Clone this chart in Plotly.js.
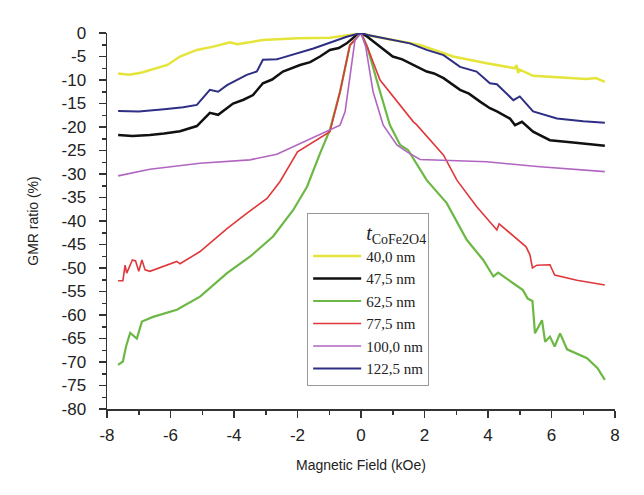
<!DOCTYPE html>
<html>
<head>
<meta charset="utf-8">
<script src="https://cdn.plot.ly/plotly-3.0.1.min.js"></script>
<style>html,body{margin:0;padding:0;background:#fff;}#chart{width:644px;height:495px;}</style>
</head>
<body>
<div id="chart"></div>
<script>
// Series names
const seriesNames = ["40,0 nm", "47,5 nm", "62,5 nm", "77,5 nm", "100,0 nm", "122,5 nm"];

// Tick labels (hyphen minus as in the reference)
const xTickVals = [-8, -6, -4, -2, 0, 2, 4, 6, 8];
const xTickText = ["-8", "-6", "-4", "-2", "0", "2", "4", "6", "8"];
const yTickVals = [0, -5, -10, -15, -20, -25, -30, -35, -40, -45, -50, -55, -60, -65, -70, -75, -80];
const yTickText = ["0", "-5", "-10", "-15", "-20", "-25", "-30", "-35", "-40", "-45", "-50", "-55", "-60", "-65", "-70", "-75", "-80"];

// 40,0 nm (yellow)
const x40 = [-7.65,-7.3,-6.9,-6.65,-6.1,-5.7,-5.17,-4.65,-4.12,-3.9,-3.5,-3.1,-2.0,-0.98,-0.35,0,
  0.3,1.0,1.86,2.9,3.96,4.85,4.9,4.95,5.0,5.42,6.05,6.6,7.1,7.4,7.68];
const y40 = [-8.6,-8.9,-8.4,-7.9,-6.8,-5.0,-3.6,-2.9,-2.0,-2.4,-1.9,-1.5,-1.1,-1.0,-0.4,0,
  -0.6,-1.5,-2.55,-5.0,-6.45,-7.5,-6.8,-8.5,-7.8,-9.1,-9.4,-9.6,-9.8,-9.6,-10.4];

// 47,5 nm (black)
const x47 = [-7.65,-7.2,-6.65,-6.2,-5.7,-5.17,-4.76,-4.5,-4.03,-3.7,-3.4,-3.09,-2.8,-2.46,-1.92,-1.6,-1.29,-0.98,-0.7,-0.45,-0.15,0,
  0.2,0.6,1.0,1.3,1.54,2.07,2.3,2.6,3.12,3.4,3.75,4.06,4.28,4.69,4.85,5.07,5.42,5.95,6.68,7.2,7.68];
const y47 = [-21.7,-21.9,-21.7,-21.4,-20.9,-19.8,-17.0,-17.4,-15.0,-14.2,-13.2,-10.7,-9.9,-8.2,-6.8,-6.2,-5.0,-3.6,-3.2,-2.2,-0.5,0,
  -0.8,-2.9,-5.0,-5.6,-6.45,-8.2,-8.6,-9.6,-12.1,-12.9,-14.6,-16.0,-16.7,-18.2,-19.6,-18.9,-21.0,-22.8,-23.3,-23.6,-24.0];

// 62,5 nm (green)
const x62 = [-7.65,-7.5,-7.4,-7.27,-7.06,-6.9,-6.55,-5.8,-5.07,-4.22,-3.5,-2.77,-2.14,-1.7,-1.29,-0.98,-0.66,-0.35,0,
  0.2,0.6,0.91,1.23,1.48,2.07,2.7,3.33,3.85,4.17,4.32,5.1,5.25,5.4,5.48,5.7,5.8,5.95,6.1,6.27,6.49,7.12,7.45,7.68];
const y62 = [-70.6,-69.9,-66.7,-63.8,-65.0,-61.4,-60.4,-58.9,-56.1,-51.1,-47.6,-43.3,-37.7,-32.7,-25.6,-20.6,-12.5,-2.6,0,
  -3.0,-12.5,-19.6,-23.8,-24.9,-31.3,-36.2,-44.0,-48.3,-51.8,-51.0,-54.7,-56.5,-57.0,-63.9,-61.1,-65.7,-64.6,-66.7,-63.9,-67.3,-69.2,-71.3,-73.8];

// 77,5 nm (red)
const x77 = [-7.65,-7.5,-7.43,-7.38,-7.2,-7.1,-7.0,-6.9,-6.8,-6.65,-5.8,-5.7,-5.07,-4.22,-3.6,-2.96,-2.55,-2.14,-2.0,-0.98,-0.66,-0.35,0,
  0.2,0.6,1.65,1.75,2.6,3.02,3.64,4.17,4.28,4.35,5.0,5.2,5.32,5.4,5.54,5.95,6.1,6.8,7.68];
const y77 = [-52.7,-52.7,-49.4,-51.1,-48.3,-48.5,-50.7,-48.3,-50.4,-50.7,-48.6,-49.1,-46.5,-41.6,-38.4,-35.2,-31.6,-27.0,-25.3,-21.0,-12.5,-2.6,0,
  -3.0,-10.0,-18.9,-19.5,-26.0,-31.3,-36.9,-40.9,-41.9,-40.6,-44.4,-45.5,-47.2,-50.0,-49.4,-49.3,-51.5,-52.6,-53.6];

// 100,0 nm (purple)
const x100 = [-7.65,-6.65,-5.07,-3.5,-2.65,-0.98,-0.66,-0.5,-0.35,-0.19,0,
  0.15,0.38,0.7,1.13,1.45,1.86,3.96,5.54,7.68];
const y100 = [-30.4,-29.0,-27.7,-27.0,-25.8,-20.6,-19.6,-16.7,-8.9,-1.5,0,
  -3.0,-12.5,-19.6,-23.8,-25.3,-26.9,-27.4,-28.4,-29.5];

// 122,5 nm (navy)
const x122 = [-7.65,-7.0,-6.2,-5.6,-5.17,-4.76,-4.5,-4.22,-3.6,-3.28,-3.09,-2.65,-2.55,-1.5,-0.45,0,
  0.25,1.0,1.54,2.07,2.6,3.12,3.64,4.06,4.28,4.8,5.0,5.42,6.17,7.0,7.68];
const y122 = [-16.6,-16.7,-16.2,-15.8,-15.3,-12.1,-12.5,-11.1,-8.9,-8.2,-5.7,-5.6,-5.4,-3.3,-0.8,0,
  -0.5,-1.5,-2.2,-3.6,-4.7,-7.2,-8.2,-10.7,-10.9,-14.3,-13.5,-16.7,-18.2,-18.8,-19.1];

const xs = [x40, x47, x62, x77, x100, x122];
const ys = [y40, y47, y62, y77, y100, y122];
const colors = ["#e4e43a", "#111111", "#6cb844", "#e0383a", "#b066c0", "#2e2e84"];
const widths = [2.5, 2.5, 2.2, 1.6, 1.6, 2.0];

const traces = seriesNames.map((n, i) => ({
  type: "scatter", mode: "lines", name: n,
  x: xs[i], y: ys[i],
  line: {color: colors[i], width: widths[i]}
}));

const tickFont = {family: "Liberation Sans, Arial, sans-serif", size: 17, color: "#222"};
const titleFont = {family: "Liberation Sans, Arial, sans-serif", size: 14, color: "#222"};

const layout = {
  width: 644, height: 495,
  margin: {l: 107, r: 29, t: 33, b: 86},
  paper_bgcolor: "#ffffff", plot_bgcolor: "#ffffff",
  showlegend: true,
  legend: {
    x: 0.394, y: 0.522, xanchor: "left", yanchor: "top",
    bgcolor: "#ffffff", bordercolor: "#999", borderwidth: 1,
    font: {family: "Liberation Serif, Times New Roman, serif", size: 15, color: "#222"},
    title: {text: "<i>t</i><sub>CoFe2O4</sub>", side: "top right",
      font: {family: "Liberation Serif, Times New Roman, serif", size: 20, color: "#222"}},
    itemwidth: 48, traceorder: "normal"
  },
  xaxis: {
    range: [-8, 8], tickvals: xTickVals, ticktext: xTickText, showgrid: false, zeroline: false,
    showline: true, linecolor: "#333", linewidth: 1.5,
    ticks: "outside", ticklen: 7, tickwidth: 1.5, tickcolor: "#333",
    minor: {dtick: 1, tick0: 0, ticks: "outside", ticklen: 4, tickwidth: 1.5, tickcolor: "#333", showgrid: false},
    tickfont: tickFont, ticklabelstandoff: 3,
    title: {text: "Magnetic Field (kOe)", font: titleFont, standoff: 16}
  },
  xaxis2: {
    overlaying: "x", side: "top", range: [-8, 8], tickvals: xTickVals,
    showgrid: false, zeroline: false, showticklabels: false,
    showline: true, linecolor: "#333", linewidth: 1.5,
    ticks: "outside", ticklen: 7, tickwidth: 1.5, tickcolor: "#333",
    minor: {dtick: 1, tick0: 0, ticks: "inside", ticklen: 4, tickwidth: 1.5, tickcolor: "#333", showgrid: false}
  },
  yaxis: {
    range: [-80, 0], tickvals: yTickVals, ticktext: yTickText, showgrid: false, zeroline: false,
    showline: true, linecolor: "#333", linewidth: 1.5,
    ticks: "outside", ticklen: 7, tickwidth: 1.5, tickcolor: "#333",
    minor: {dtick: 2.5, tick0: 0, ticks: "outside", ticklen: 4, tickwidth: 1.5, tickcolor: "#333", showgrid: false},
    tickfont: tickFont, ticklabelstandoff: 9,
    title: {text: "GMR ratio (%)", font: titleFont, standoff: 19}
  },
  yaxis2: {
    overlaying: "y", side: "right", range: [-80, 0], tickvals: yTickVals,
    showgrid: false, zeroline: false, showticklabels: false,
    showline: true, linecolor: "#333", linewidth: 1.5,
    ticks: "inside", ticklen: 7, tickwidth: 1.5, tickcolor: "#333",
    minor: {dtick: 2.5, tick0: 0, ticks: "inside", ticklen: 4, tickwidth: 1.5, tickcolor: "#333", showgrid: false}
  }
};

Plotly.newPlot("chart", traces, layout, {staticPlot: true, displayModeBar: false});
</script>
</body>
</html>
